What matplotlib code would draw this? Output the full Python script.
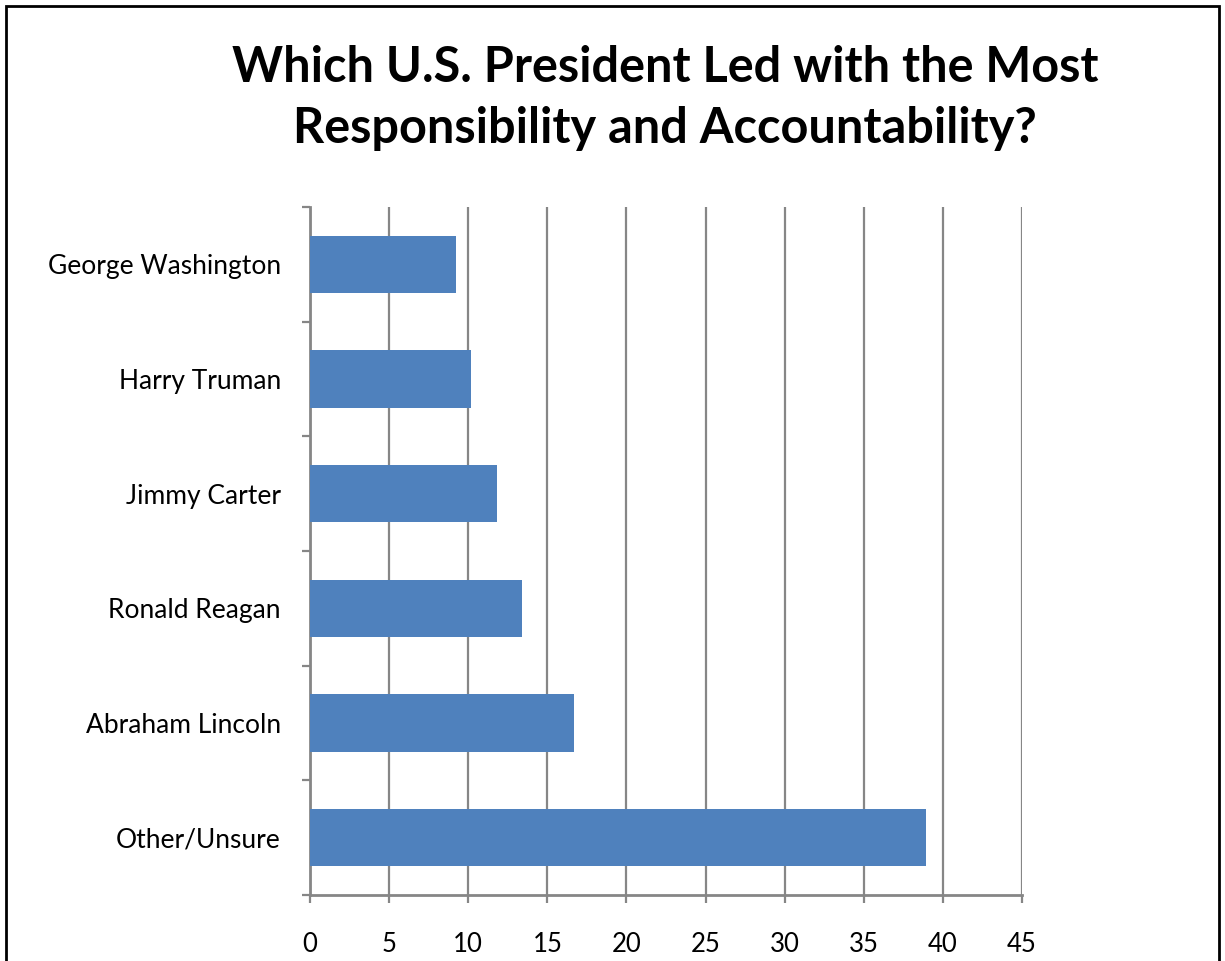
import matplotlib.pyplot as plt
from matplotlib.patches import Rectangle
import numpy as np

# survey answers, listed top to bottom as they appear on the chart
presidents = ["George Washington", "Harry Truman", "Jimmy Carter",
              "Ronald Reagan", "Abraham Lincoln", "Other/Unsure"]
percent = [9.2, 10.2, 11.8, 13.4, 16.7, 38.9]
xticks = [0, 5, 10, 15, 20, 25, 30, 35, 40, 45]

title_lines = ["Which U.S. President Led with the Most",
               "Responsibility and Accountability?"]

bar_color = "#4F81BD"
grid_color = "#868686"

plt.rcParams["font.family"] = ["Lato", "DejaVu Sans"]

fig = plt.figure(figsize=(12.25, 9.61), dpi=100)
ax = fig.add_axes([0.2531, 0.0687, 0.5812, 0.7159])

n = len(presidents)
ypos = np.arange(n)[::-1]
ax.barh(ypos, percent, height=0.5, color=bar_color, zorder=3)

ax.set_xlim(0, 45)
ax.set_ylim(-0.5, n - 0.5)
ax.set_xticks(xticks)
ax.set_xticklabels([str(t) for t in xticks], fontsize=18.5)
ax.set_yticks(ypos)
ax.set_yticklabels(presidents, fontsize=19)
ax.set_yticks(np.arange(n + 1) - 0.5, minor=True)

ax.xaxis.grid(True, color=grid_color, linewidth=1.6, zorder=0)
ax.tick_params(axis="x", which="major", length=6, width=1.6,
               color=grid_color, pad=21)
ax.tick_params(axis="y", which="major", length=0, pad=21)
ax.tick_params(axis="y", which="minor", length=6, width=1.6,
               color=grid_color)

for s in ["top", "right"]:
    ax.spines[s].set_visible(False)
for s in ["left", "bottom"]:
    ax.spines[s].set_color(grid_color)
    ax.spines[s].set_linewidth(2)

for line, y in zip(title_lines, [0.930, 0.866]):
    fig.text(0.543, y, line, ha="center", va="center", fontsize=35,
             fontweight="bold")

# chart frame
fig.patches.append(Rectangle((0.005, -0.05), 0.99, 1.044, transform=fig.transFigure,
                             fill=False, edgecolor="black", linewidth=2))

fig.savefig("out.png", dpi=100)
